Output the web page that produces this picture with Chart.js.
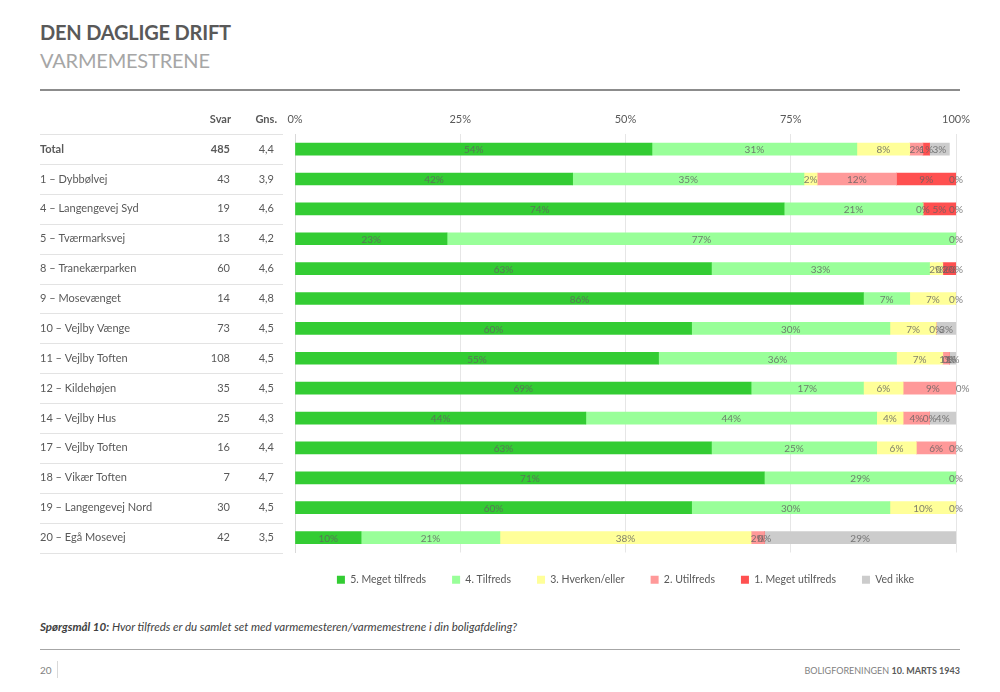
<!DOCTYPE html>
<html><head><meta charset="utf-8">
<script src="https://cdn.jsdelivr.net/npm/chart.js@4/dist/chart.umd.min.js"></script>
<style>
body{margin:0;width:1000px;height:692px;position:relative;background:#fff;font-family:Lato,"Open Sans",sans-serif;overflow:hidden;color:#595959}
#t1{position:absolute;left:40px;top:20px;font-size:20px;font-weight:bold;color:#595959;letter-spacing:-0.2px}
#t2{position:absolute;left:40px;top:48px;font-size:20px;color:#a6a6a6;letter-spacing:-0.2px}
#hr1{position:absolute;left:40px;top:89px;width:920px;height:2px;background:#8c8c8c}
#cw{position:absolute;left:0;top:100px;width:1000px;height:499px}
#note{position:absolute;left:40px;top:620px;font-size:11.5px;font-style:italic;color:#404040}
#hr2{position:absolute;left:40px;top:649px;width:920px;height:1px;background:#a6a6a6}
#pg{position:absolute;left:40px;top:664px;font-size:10px;color:#7f7f7f}
#pgsep{position:absolute;left:57px;top:661px;width:1px;height:17px;background:#d9d9d9}
#ft{position:absolute;right:40px;top:665px;font-size:9px;color:#7f7f7f}
#ft b{color:#595959}
</style></head><body>
<div id="t1">DEN DAGLIGE DRIFT</div>
<div id="t2">VARMEMESTRENE</div>
<div id="hr1"></div>
<div id="cw"><canvas id="c"></canvas></div>
<div id="note"><b>Spørgsmål 10:</b> Hvor tilfreds er du samlet set med varmemesteren/varmemestrene i din boligafdeling?</div>
<div id="hr2"></div>
<div id="pg">20</div><div id="pgsep"></div>
<div id="ft">BOLIGFORENINGEN <b>10. MARTS 1943</b></div>
<script>
const categories = ["Total","1 – Dybbølvej","4 – Langengevej Syd","5 – Tværmarksvej","8 – Tranekærparken","9 – Mosevænget","10 – Vejlby Vænge","11 – Vejlby Toften","12 – Kildehøjen","14 – Vejlby Hus","17 – Vejlby Toften","18 – Vikær Toften","19 – Langengevej Nord","20 – Egå Mosevej"];
const svar = ["485","43","19","13","60","14","73","108","35","25","16","7","30","42"];
const gns = ["4,4","3,9","4,6","4,2","4,6","4,8","4,5","4,5","4,5","4,3","4,4","4,7","4,5","3,5"];
const seriesNames = ["5. Meget tilfreds","4. Tilfreds","3. Hverken/eller","2. Utilfreds","1. Meget utilfreds","Ved ikke"];
const s5 = [54,42,74,23,63,86,60,55,69,44,63,71,60,10];
const s4 = [31,35,21,77,33,7,30,36,17,44,25,29,30,21];
const s3 = [8,2,0,0,2,7,7,7,6,4,6,0,10,38];
const s2 = [2,12,0,0,0,0,0,1,9,4,6,0,0,2];
const s1 = [1,9,5,0,2,0,0,0,0,0,0,0,0,0];
const s0 = [3,0,0,0,0,0,3,1,0,4,0,0,0,29];
const xTicks = [0,25,50,75,100];
const colors = ["#33cc33","#99ff99","#ffff99","#ff9999","#ff5050","#cccccc"];
const allSeries = [s5,s4,s3,s2,s1,s0];

const legendShift = {
  id:'legendShift',
  afterLayout(chart){ chart.legend.top -= 4; }
};

const tablePlugin = {
  id:'table',
  afterDraw(chart){
    const ctx = chart.ctx, y = chart.scales.y;
    ctx.save();
    ctx.textBaseline='middle';
    ctx.fillStyle='#595959';
    ctx.font='bold 11px Lato';
    ctx.textAlign='right';
    ctx.fillText('Svar',231,19);
    ctx.fillText('Gns.',277,19);
    const step = y.getPixelForValue(1)-y.getPixelForValue(0);
    ctx.strokeStyle='#e3e3e3'; ctx.lineWidth=1;
    categories.forEach((c,i)=>{
      const py = y.getPixelForValue(i);
      ctx.beginPath(); ctx.moveTo(40,Math.round(py-step/2)+0.5); ctx.lineTo(283,Math.round(py-step/2)+0.5); ctx.stroke();
      ctx.font=(i===0?'bold ':'')+'11px Lato';
      ctx.textAlign='left'; ctx.fillText(c,40,py);
      ctx.textAlign='right'; ctx.fillText(svar[i],230,py);
      ctx.font='11px Lato';
      ctx.fillText(gns[i],274,py);
    });
    const last = y.getPixelForValue(categories.length-1)+step/2;
    ctx.beginPath(); ctx.moveTo(40,Math.round(last)+0.5); ctx.lineTo(283,Math.round(last)+0.5); ctx.stroke();
    ctx.font='10px Lato'; ctx.textAlign='center';
    ctx.fillStyle='rgba(96,96,96,0.8)';
    const seen = new Set();
    chart.data.datasets.forEach((ds,di)=>{
      chart.getDatasetMeta(di).data.forEach((el,i)=>{
        const cx=(el.x+el.base)/2, key=i+'|'+Math.round(cx)+'|'+ds.data[i];
        if(seen.has(key)) return; seen.add(key);
        ctx.fillText(ds.data[i]+'%',cx,el.y+1);
      });
    });
    ctx.restore();
  }
};

new Chart(document.getElementById('c'),{
  type:'bar',
  data:{labels:categories,datasets:allSeries.map((d,i)=>({label:seriesNames[i],data:d,backgroundColor:colors[i],barThickness:12,borderWidth:0}))},
  options:{
    indexAxis:'y',responsive:true,maintainAspectRatio:false,animation:false,
    layout:{padding:{left:295,right:44,top:5,bottom:0}},
    scales:{
      x:{stacked:true,position:'top',min:0,max:100,
         afterBuildTicks(s){s.ticks=xTicks.map(v=>({value:v}));},
         ticks:{callback:v=>v+'%',color:'#595959',font:{family:'Lato',size:11},padding:8},
         grid:{color:'#e6e6e6',drawTicks:false},border:{display:false}},
      y:{stacked:true,ticks:{display:false,padding:0},grid:{display:false,drawTicks:false,tickLength:0},border:{color:'#d9d9d9'}}
    },
    plugins:{
      legend:{position:'bottom',labels:{boxWidth:8,boxHeight:8,padding:26,color:'#595959',font:{family:'Lato',size:10.5}}},
      tooltip:{enabled:false}
    }
  },
  plugins:[tablePlugin,legendShift]
});
</script>
</body></html>
